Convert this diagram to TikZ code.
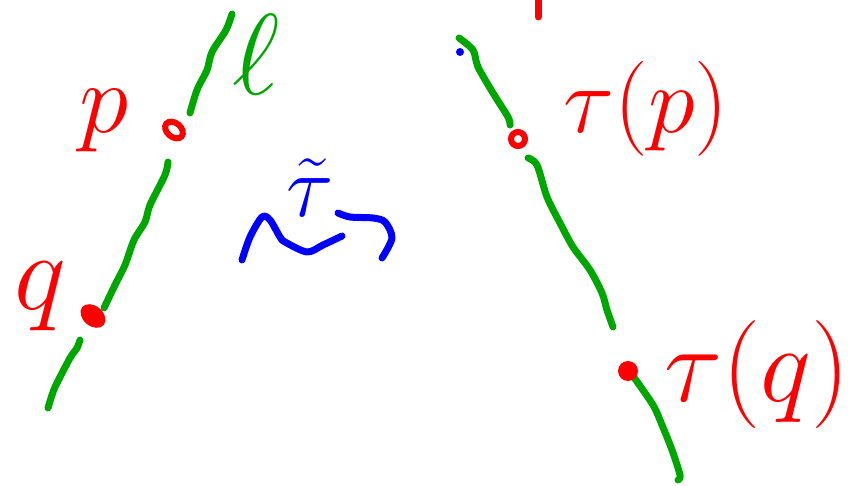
\RequirePackage{fix-cm}
\documentclass[tikz,border=0pt]{standalone}
\definecolor{pgreen}{RGB}{0,166,0}
\definecolor{pred}{RGB}{255,0,0}
\definecolor{pblue}{RGB}{0,0,255}
\tikzset{
  stroke/.style={line width=7, line cap=round, line join=round},
  gline/.style={stroke, draw=pgreen},
  bline/.style={stroke, draw=pblue},
  lbl/.style={inner sep=0pt, anchor=base},
}
\newcommand{\fsz}[1]{\fontsize{#1}{#1}\selectfont}
\begin{document}
\begin{tikzpicture}[x=1pt,y=-1pt]
\useasboundingbox (0,0) rectangle (868,486);
% left line l
\draw[gline] plot[smooth] coordinates {(232,14) (226,30) (212,52) (207,70) (197,90) (190,113)};
\draw[gline] plot[smooth] coordinates {(168,162) (165,175) (150,205) (145,222) (134,240) (125,265) (115,285) (104,308)};
\draw[gline] plot[smooth] coordinates {(80,340) (77,348) (70,358) (56,385) (52,395) (48,408)};
% right line
\draw[gline] plot[smooth] coordinates {(459,38) (473,50) (478,67) (493,93) (508,117) (510,125)};
\draw[gline] plot[smooth] coordinates {(528,158) (537,165) (547,197) (560,223) (573,247) (590,270) (602,293) (607,310) (613,327)};
\draw[gline] plot[smooth] coordinates {(633,376) (653,405) (662,425) (672,450) (680,475) (678,480)};
% points
\draw[pred, line width=6] (174,130) ellipse [x radius=10, y radius=7, rotate=-40];
\fill[pred, rotate around={-40:(93,316)}] (93,316) ellipse [x radius=14, y radius=10];
\draw[pred, line width=6] (518,139) circle [radius=7];
\fill[pred] (628,371) circle [radius=10];
\draw[stroke, draw=pred] (538,0) -- (538,17);
\fill[pblue] (460,52) circle [radius=4];
% labels
\node[lbl, text=pred, font=\fsz{100}] (p) at (104,133) {$p$};
\node[lbl, text=pred, font=\fsz{110}] (q) at (40,310) {$q$};
\node[lbl, text=pgreen, font=\fsz{115}] (l) at (256,95) {$\ell$};
\node[lbl, text=pred, font=\fsz{95}] (tp) at (646,133) {$\tau(p)$};
\node[lbl, text=pred, font=\fsz{108}] (tq) at (757,402) {$\tau(q)$};
\node[lbl, text=pblue, font=\fsz{88}] (tt) at (310,217) {$\tilde{\tau}$};
% blue curve under
\draw[bline] plot[smooth] coordinates {(242,260) (250,237) (262,217) (270,220) (280,237) (285,242) (307,252) (323,245) (342,236)};
\draw[bline] plot[smooth] coordinates {(338,213) (350,217) (373,218) (385,222) (392,238) (382,258)};
\end{tikzpicture}
\end{document}
